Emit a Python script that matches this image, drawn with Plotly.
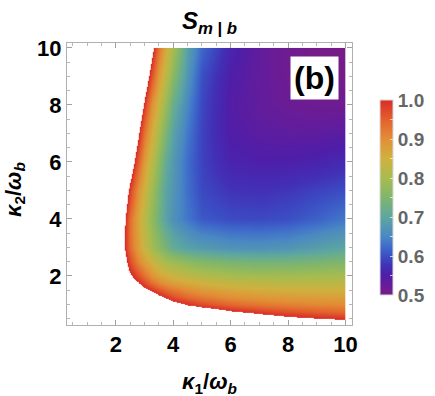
import plotly.graph_objects as go

# grid
kappa1 = [2.0, 2.25, 2.5, 2.75, 3.0, 3.25, 3.5, 3.75, 4.0, 4.5, 5.0, 6.0, 7.0, 8.0, 9.0, 10.0]
kappa2 = [0.4, 0.5, 0.75, 1.0, 1.25, 1.5, 1.75, 2.0, 2.25, 2.5, 3.0, 3.5, 4.0, 5.0, 6.0, 7.0, 8.0, 9.0, 10.0]

S_k2_040 = [1.65, 1.62, 1.59, 1.55, 1.51, 1.47, 1.43, 1.39, 1.35, 1.29, 1.23, 1.14, 1.09, 1.055, 1.04, 1.03]
S_k2_050 = [1.60, 1.57, 1.54, 1.50, 1.46, 1.42, 1.38, 1.34, 1.30, 1.24, 1.18, 1.09, 1.045, 1.02, 1.006, 0.996]
S_k2_075 = [1.45, 1.42, 1.39, 1.35, 1.31, 1.27, 1.23, 1.19, 1.15, 1.10, 1.06, 1.01, 0.985, 0.965, 0.952, 0.942]
S_k2_100 = [1.31, 1.28, 1.25, 1.21, 1.17, 1.13, 1.10, 1.06, 1.03, 1.00, 0.975, 0.945, 0.928, 0.918, 0.91, 0.905]
S_k2_125 = [1.21, 1.18, 1.15, 1.12, 1.09, 1.05, 1.015, 0.99, 0.968, 0.938, 0.92, 0.898, 0.886, 0.88, 0.877, 0.875]
S_k2_150 = [1.13, 1.10, 1.07, 1.04, 1.015, 0.99, 0.962, 0.94, 0.925, 0.90, 0.885, 0.866, 0.857, 0.853, 0.851, 0.85]
S_k2_175 = [1.10, 1.07, 1.035, 1.005, 0.97, 0.935, 0.908, 0.89, 0.879, 0.862, 0.848, 0.832, 0.825, 0.822, 0.822, 0.825]
S_k2_200 = [1.09, 1.05, 1.011, 0.971, 0.932, 0.895, 0.872, 0.855, 0.842, 0.826, 0.814, 0.80, 0.795, 0.795, 0.797, 0.80]
S_k2_225 = [1.09, 1.04, 0.99, 0.94, 0.902, 0.87, 0.845, 0.825, 0.815, 0.797, 0.784, 0.771, 0.765, 0.766, 0.77, 0.775]
S_k2_250 = [1.10, 1.035, 0.973, 0.912, 0.877, 0.848, 0.82, 0.797, 0.788, 0.769, 0.755, 0.742, 0.736, 0.737, 0.742, 0.75]
S_k2_300 = [1.10, 1.02, 0.94, 0.879, 0.835, 0.794, 0.767, 0.739, 0.711, 0.69, 0.68, 0.667, 0.665, 0.67, 0.685, 0.70]
S_k2_350 = [1.11, 1.02, 0.935, 0.872, 0.825, 0.783, 0.748, 0.715, 0.69, 0.662, 0.645, 0.632, 0.63, 0.635, 0.65, 0.667]
S_k2_400 = [1.12, 1.03, 0.937, 0.869, 0.818, 0.772, 0.729, 0.691, 0.665, 0.633, 0.608, 0.597, 0.595, 0.60, 0.615, 0.635]
S_k2_500 = [1.155, 1.07, 0.98, 0.898, 0.843, 0.79, 0.74, 0.695, 0.672, 0.626, 0.595, 0.578, 0.575, 0.58, 0.59, 0.60]
S_k2_600 = [1.23, 1.14, 1.05, 0.956, 0.878, 0.822, 0.766, 0.709, 0.677, 0.624, 0.59, 0.558, 0.552, 0.552, 0.557, 0.567]
S_k2_700 = [1.28, 1.19, 1.10, 1.01, 0.921, 0.857, 0.80, 0.742, 0.692, 0.633, 0.59, 0.548, 0.538, 0.535, 0.535, 0.54]
S_k2_800 = [1.34, 1.25, 1.16, 1.07, 0.982, 0.895, 0.839, 0.78, 0.72, 0.648, 0.594, 0.545, 0.53, 0.52, 0.515, 0.515]
S_k2_900 = [1.39, 1.30, 1.22, 1.13, 1.045, 0.96, 0.881, 0.823, 0.763, 0.667, 0.60, 0.55, 0.53, 0.515, 0.507, 0.505]
S_k2_1000 = [1.47, 1.38, 1.29, 1.20, 1.11, 1.02, 0.929, 0.86, 0.80, 0.686, 0.62, 0.56, 0.53, 0.513, 0.504, 0.50]

S_rows = [S_k2_040, S_k2_050, S_k2_075, S_k2_100, S_k2_125, S_k2_150, S_k2_175, S_k2_200,
          S_k2_225, S_k2_250, S_k2_300, S_k2_350, S_k2_400, S_k2_500, S_k2_600, S_k2_700,
          S_k2_800, S_k2_900, S_k2_1000]

bar_values = [0.50, 0.525, 0.55, 0.575, 0.60, 0.625, 0.65, 0.70, 0.75, 0.80, 0.85, 0.90, 0.95, 1.00]
bar_colors = ["#781c86", "#671c99", "#4f1ea9", "#4230b6", "#3b4fc4", "#3f6dca", "#4a88c3",
              "#5ea7a0", "#80b66c", "#a8bc4e", "#d0b13f", "#e28f36", "#e3602e", "#da2b26"]

SMIN, SMAX_SHOWN, ZTOP = 0.5, 1.0, 2.0

# colorscale for the field: rainbow up to S = 1, white (not shown) above
field_scale = [[(v - SMIN) / (ZTOP - SMIN), c] for v, c in zip(bar_values, bar_colors)]
field_scale.append([(SMAX_SHOWN - SMIN) / (ZTOP - SMIN) + 1e-4, "#ffffff"])
field_scale.append([1.0, "#ffffff"])
bar_scale = [[(v - SMIN) / (SMAX_SHOWN - SMIN), c] for v, c in zip(bar_values, bar_colors)]

FONT = "Liberation Sans"

fig = go.Figure()
fig.add_trace(go.Contour(
    x=kappa1, y=kappa2, z=S_rows,
    zmin=SMIN, zmax=ZTOP, colorscale=field_scale,
    contours=dict(coloring="heatmap", showlines=False),
    line=dict(width=0), showscale=False, hoverinfo="skip",
))
fig.add_trace(go.Scatter(
    x=[kappa1[-1], kappa1[-1]], y=[kappa2[-1], kappa2[-1]], mode="markers",
    marker=dict(size=1, opacity=0, color=[SMIN, SMAX_SHOWN], cmin=SMIN, cmax=SMAX_SHOWN,
                colorscale=bar_scale, showscale=True,
                colorbar=dict(thickness=13, lenmode="pixels", len=195,
                              x=1.0994, xanchor="left", xpad=0,
                              y=0.452, yanchor="middle", ypad=0,
                              tick0=0.5, dtick=0.05, ticklabelstep=2, tickformat=".1f",
                              ticks="inside", ticklen=3, tickcolor="rgba(255,255,255,0.7)",
                              tickfont=dict(family=FONT, size=19, color="#666666", weight="bold"),
                              outlinewidth=1, outlinecolor="#d8d8d8")),
    hoverinfo="skip", showlegend=False,
))

axis_common = dict(
    showgrid=False, zeroline=False, showline=True, linecolor="#b0b0b0", linewidth=1,
    mirror="ticks", ticks="inside", ticklen=5, tickcolor="#a0a0a0", tickwidth=1,
    tick0=0, dtick=2,
    minor=dict(dtick=0.5, ticklen=3, ticks="inside", tickcolor="#b8b8b8", showgrid=False),
    tickfont=dict(family=FONT, size=22, color="black", weight="bold"),
)

fig.update_layout(
    width=435, height=396,
    margin=dict(l=67, r=83, t=43, b=71, autoexpand=False),
    paper_bgcolor="white", plot_bgcolor="white",
    xaxis=dict(range=[0.30, 10.23], **axis_common),
    yaxis=dict(range=[0.28, 10.17], **axis_common),
    title=dict(text="<b><i>S</i><sub><i>m</i> | <i>b</i></sub></b>",
               x=0.5, xref="paper", y=1 - 21 / 396, yref="container", yanchor="middle",
               font=dict(family=FONT, size=24, color="black")),
    showlegend=False,
    annotations=[
        dict(text="<b>(b)</b>", xref="paper", yref="paper", x=0.8676, y=0.876,
             xanchor="center", yanchor="middle", showarrow=False, bgcolor="white",
             borderpad=3, font=dict(family=FONT, size=32, color="black")),
        dict(text="<b><i>κ</i><sub>1</sub>/<i>ω</i><sub><i>b</i></sub></b>",
             xref="paper", yref="paper", x=0.5, y=-0.205, xanchor="center", yanchor="middle",
             showarrow=False, font=dict(family=FONT, size=22, color="black")),
        dict(text="<b><i>κ</i><sub>2</sub>/<i>ω</i><sub><i>b</i></sub></b>",
             xref="paper", yref="paper", x=-0.1826, y=0.482, xanchor="center", yanchor="middle",
             textangle=-90, showarrow=False, font=dict(family=FONT, size=22, color="black")),
    ],
)

fig.write_html("out.html", config={"displayModeBar": False},
               post_script="document.body.style.margin='0';")
